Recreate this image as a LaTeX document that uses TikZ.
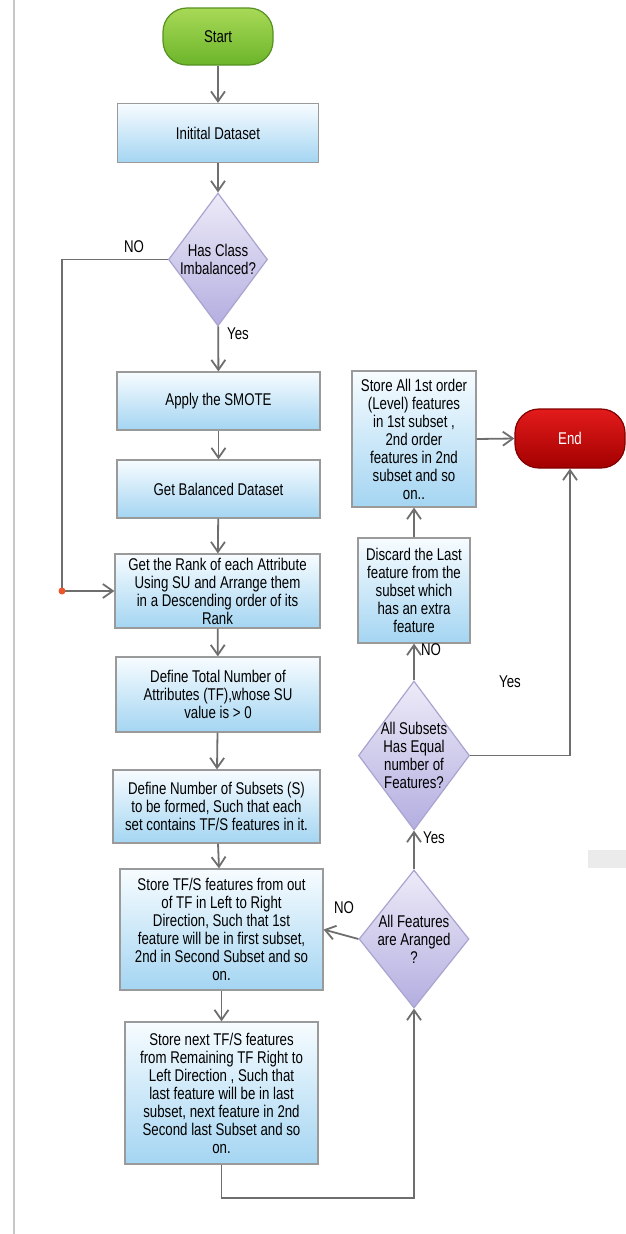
\documentclass[tikz,border=0pt]{standalone}
\usepackage{fontspec}
\setmainfont{Liberation Sans}[FakeStretch=0.78]
\usetikzlibrary{shapes.geometric,arrows.meta}
\definecolor{boxtop}{HTML}{F7FCFF}
\definecolor{boxbot}{HTML}{A4D5F2}
\definecolor{boxline}{HTML}{9A9A9A}
\definecolor{diatop}{HTML}{EDEBF8}
\definecolor{diabot}{HTML}{B3AEE0}
\definecolor{diaedge}{HTML}{A9A4CF}
\definecolor{flowgray}{HTML}{6E6E6E}
\definecolor{gotop}{HTML}{A8D957}
\definecolor{gobot}{HTML}{6CB52A}
\definecolor{stoptop}{HTML}{E31B1B}
\definecolor{stopbot}{HTML}{A30000}
\definecolor{dotorange}{HTML}{E9572B}

\begin{document}
\begin{tikzpicture}[x=1pt,y=-1pt,
    font=\fontsize{17}{18}\selectfont,
    flowbox/.style={draw=boxline,line width=1.2pt,top color=boxtop,bottom color=boxbot,align=center,inner sep=1pt},
    decision/.style={diamond,draw=diaedge,line width=1.2pt,top color=diatop,bottom color=diabot,align=center,inner sep=-9pt},
    terminal/.style={rounded corners=24pt,line width=1.2pt,minimum width=110pt},
    flow/.style={draw=flowgray,line width=1.8pt,-{Straight Barb[length=10pt,width=14pt,line width=1.8pt]}},
    plain/.style={draw=flowgray,line width=1.8pt}]

    \useasboundingbox (0,0) rectangle (626,1234);
    \draw[line width=1.5pt,color=black!22] (14,0) -- (14,1234);
    \fill[black!8] (588,850) rectangle (626,868);

    % terminals
    \node (start) at (218,36.5) [terminal,draw=gobot!80!black,top color=gotop,bottom color=gobot,minimum height=57pt] {Start};
    \node (stop) at (570,438.5) [terminal,draw=stopbot!80!black,top color=stoptop,bottom color=stopbot,minimum height=59pt,text=white] {End};

    % left column
    \node (init) at (218,133) [flowbox,minimum width=201pt,minimum height=59pt] {Initital Dataset};
    \node (imbal) at (218,259.5) [decision,minimum width=99pt,minimum height=133pt] {Has Class\\Imbalanced?};
    \node (smote) at (218.5,401) [flowbox,minimum width=203pt,minimum height=58pt] {Apply the SMOTE};
    \node (balanced) at (218.5,489) [flowbox,minimum width=203pt,minimum height=58pt] {Get Balanced Dataset};
    \node (rank) at (217.5,591) [flowbox,minimum width=205pt,minimum height=74pt] {Get the Rank of each Attribute\\Using SU and Arrange them\\in a Descending order of its\\Rank};
    \node (total) at (218,694.5) [flowbox,minimum width=204pt,minimum height=75pt] {Define Total Number of\\Attributes (TF),whose SU\\value is > 0};
    \node (subsets) at (216.5,806.5) [flowbox,minimum width=207pt,minimum height=73pt] {Define Number of Subsets (S)\\to be formed, Such that each\\set contains TF/S features in it.};
    \node (storelr) at (221.5,929.5) [flowbox,minimum width=203pt,minimum height=121pt] {Store TF/S features from out\\of TF in Left to Right\\Direction, Such that 1st\\feature will be in first subset,\\2nd in Second Subset and so\\on.};
    \node (storerl) at (221.5,1093) [flowbox,minimum width=193pt,minimum height=142pt] {Store next TF/S features\\from Remaining TF Right to\\Left Direction , Such that\\last feature will be in last\\subset, next feature in 2nd\\Second last Subset and so\\on.};

    % right column
    \node (arranged) at (414,939) [decision,minimum width=110pt,minimum height=138pt] {All Features\\are Aranged\\?};
    \node (equal) at (414,755.5) [decision,minimum width=111pt,minimum height=149pt] {All Subsets\\Has Equal\\number of\\Features?};
    \node (discard) at (414,590.5) [flowbox,minimum width=112pt,minimum height=105pt] {Discard the Last\\feature from the\\subset which\\has an extra\\feature};
    \node (storeall) at (414,439) [flowbox,minimum width=124pt,minimum height=136pt] {Store All 1st order\\(Level) features\\in 1st subset ,\\2nd order\\features in 2nd\\subset and so\\on..};

    \coordinate (noturn) at (62,259.5);
    \coordinate (loopback) at (221.5,1198);

    \draw[flow] (start) -- (init);
    \draw[flow] (init) -- (imbal);
    \draw[flow] (imbal) -- (smote);
    \draw[flow] (smote) -- (balanced);
    \draw[flow] (balanced) -- (rank);
    \draw[flow] (rank) -- (total);
    \draw[flow] (total) -- (subsets);
    \draw[flow] (subsets) -- (storelr);
    \draw[flow] (storelr) -- (storerl);
    \draw[flow] (imbal.west) -- (noturn) |- (rank.west);
    \fill[dotorange] (noturn |- rank.west) circle (3.5pt);
    \draw[flow] (storerl.south) -- (loopback) -| (arranged.south);
    \draw[flow] (arranged.west) -- (storelr.east);
    \draw[flow] (arranged.north) -- (equal.south);
    \draw[flow] (equal.north) -- (discard.south);
    \draw[flow] (equal.east) -| (stop.south);
    \draw[flow] (discard.north) -- (storeall.south);
    \draw[flow] (storeall.east) -- (stop.west);

    % branch labels
    \node (noimbal) at (134,247) {NO};
    \node (yesimbal) at (238,334) {Yes};
    \node (noarranged) at (344,908) {NO};
    \node (yesarranged) at (434,838) {Yes};
    \node (noequal) at (431,650) {NO};
    \node (yesequal) at (510,682) {Yes};

\end{tikzpicture}
\end{document}
